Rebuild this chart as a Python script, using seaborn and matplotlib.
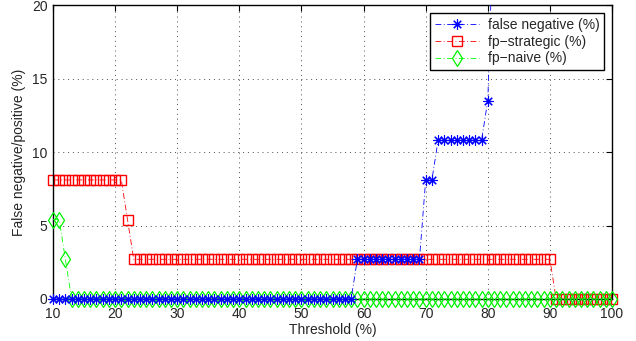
import numpy as np
import pandas as pd
import matplotlib
matplotlib.use("Agg")
import matplotlib.pyplot as plt
from matplotlib.patches import Rectangle
import seaborn as sns

# ---- data ----
threshold = list(range(10, 101))
false_negative = ([0.0] * 49 + [2.7] * 11 + [8.1] * 2 + [10.8] * 8 + [13.5]
                  + [27.0, 29.7, 32.4, 35.1, 37.8, 40.5, 43.2, 45.9, 48.6, 51.4,
                     54.1, 56.8, 59.5, 62.2, 64.9, 67.6, 70.3, 73.0, 75.7, 78.4])
fp_strategic = [8.1] * 12 + [5.4] + [2.7] * 68 + [0.0] * 10
fp_naive = [5.4, 5.4, 2.7] + [0.0] * 88

labels = ["false negative (%)", "fp\u2212strategic (%)", "fp\u2212naive (%)"]
x_ticks = [10, 20, 30, 40, 50, 60, 70, 80, 90, 100]
y_ticks = [0, 5, 10, 15, 20]

sns.set_style("white")
plt.rcParams["font.family"] = ["Liberation Sans", "DejaVu Sans"]
plt.rcParams["font.size"] = 10

fig = plt.figure(figsize=(6.36, 3.41), dpi=100)
ax = fig.add_axes([0.0833, 0.1232, 0.8790, 0.8620])

dash = (0, (7, 3, 1, 3))
sns.lineplot(x=threshold, y=false_negative, ax=ax, color=(0, 0, 1),
             linestyle=dash, linewidth=0.6, marker=(8, 2, 0), markersize=7.5,
             markeredgewidth=0.8, markeredgecolor=(0, 0, 1),
             label=labels[0], estimator=None, zorder=4)
sns.lineplot(x=threshold, y=fp_strategic, ax=ax, color=(1, 0, 0),
             linestyle=dash, linewidth=0.6, marker="s", markersize=6.5,
             markerfacecolor="none", markeredgecolor=(1, 0, 0),
             markeredgewidth=1.0, label=labels[1], estimator=None, zorder=2)
sns.lineplot(x=threshold, y=fp_naive, ax=ax, color=(0, 1, 0),
             linestyle=dash, linewidth=0.6, marker="d", markersize=8,
             markerfacecolor="none", markeredgecolor=(0, 0.95, 0),
             markeredgewidth=0.9, label=labels[2], estimator=None, zorder=3)

ax.set_xlim(10, 100)
ax.set_ylim(0, 20)

# extended clip so markers on the frame are drawn fully
clip = Rectangle((-0.02, -0.03), 1.04, 1.03, transform=ax.transAxes,
                 facecolor="none", edgecolor="none")
ax.add_patch(clip)
for ln in ax.get_lines():
    ln.set_clip_path(clip)

ax.set_xticks(x_ticks)
ax.set_yticks(y_ticks)
ax.tick_params(direction="in", top=True, right=True, length=4, width=0.8,
               labelsize=10, color="black")
ax.tick_params(axis="x", pad=6)
ax.tick_params(axis="y", pad=4)
ax.grid(True, linestyle=(0, (1, 4)), color="black", linewidth=0.7, alpha=0.7)
for s in ax.spines.values():
    s.set_color("black")
    s.set_linewidth(1.0)
ax.set_xlabel("Threshold (%)", fontsize=10, labelpad=1)
ax.set_ylabel("False negative/positive (%)", fontsize=10, labelpad=4)

leg = ax.legend(loc="upper right", fontsize=10, frameon=True, fancybox=False,
                edgecolor="black", framealpha=1, borderpad=0.35,
                labelspacing=0.2, handlelength=3.2, handletextpad=0.6,
                borderaxespad=0, bbox_to_anchor=(0.986, 0.973))
leg.set_zorder(10)
leg.get_frame().set_linewidth(1.0)

fig.savefig("out.png", dpi=100)
